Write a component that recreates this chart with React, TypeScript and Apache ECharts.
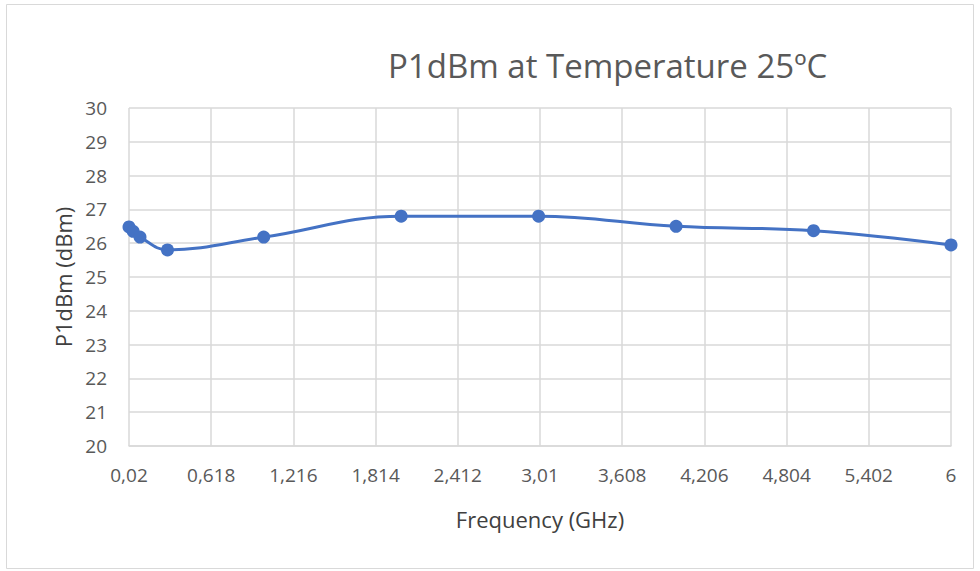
import React, { useEffect, useRef } from "react";
import * as echarts from "echarts";

const frequencies = [0.02, 0.05, 0.1, 0.3, 1, 2, 3, 4, 5, 6];
const p1dbm = [26.48, 26.35, 26.18, 25.8, 26.18, 26.8, 26.8, 26.5, 26.37, 25.95];
const xStart = 0.02;
const xEnd = 6;
const xStep = 0.598;
const yMin = 20;
const yMax = 30;

const fmtX = (v: number) => {
  const real = Math.round((v + xStart) * 1000) / 1000;
  return String(real).replace(".", ",");
};

export default function App() {
  const ref = useRef<HTMLDivElement>(null);
  useEffect(() => {
    if (!ref.current) return;
    const chart = echarts.init(ref.current, null, { renderer: "svg" });
    const font = "'Open Sans', 'Liberation Sans', sans-serif";
    chart.setOption({
      animation: false,
      backgroundColor: "#ffffff",
      textStyle: { fontFamily: font },
      title: {
        text: "P1dBm at Temperature 25ºC",
        left: 383,
        top: 44,
        textStyle: { fontFamily: font, fontSize: 33, fontWeight: "normal", color: "#595959" },
      },
      graphic: [
        {
          type: "rect",
          shape: { x: 6.5, y: 4.5, width: 967, height: 564 },
          style: { fill: "none", stroke: "#d9d9d9", lineWidth: 1 },
          silent: true,
        },
      ],
      grid: { left: 129, right: 29, top: 108, bottom: 125, containLabel: false },
      xAxis: {
        type: "value",
        min: 0,
        max: xEnd - xStart,
        interval: xStep,
        name: "Frequency (GHz)",
        nameLocation: "middle",
        nameGap: 62,
        nameTextStyle: { fontSize: 22, color: "#404040", fontFamily: font },
        axisLine: { show: true, lineStyle: { color: "#d9d9d9", width: 1.5 } },
        axisTick: { show: false },
        splitLine: { show: true, lineStyle: { color: "#d9d9d9", width: 1.5 } },
        axisLabel: { formatter: fmtX, fontSize: 19, color: "#595959", margin: 19, fontFamily: font },
      },
      yAxis: {
        type: "value",
        min: yMin,
        max: yMax,
        interval: 1,
        name: "P1dBm (dBm)",
        nameLocation: "middle",
        nameGap: 55,
        nameTextStyle: { fontSize: 22, color: "#404040", fontFamily: font },
        axisLine: { show: false },
        axisTick: { show: false },
        splitLine: { show: true, lineStyle: { color: "#d9d9d9", width: 1.5 } },
        axisLabel: { fontSize: 19, color: "#595959", margin: 22, fontFamily: font },
      },
      series: [
        {
          type: "line",
          data: frequencies.map((f, i) => [f - xStart, p1dbm[i]]),
          smooth: 0.4,
          symbol: "circle",
          symbolSize: 13,
          lineStyle: { color: "#4472C4", width: 3 },
          itemStyle: { color: "#4472C4" },
        },
      ],
    });
    return () => chart.dispose();
  }, []);
  return <div ref={ref} style={{ width: 980, height: 571, position: "absolute", left: 0, top: 0 }} />;
}
